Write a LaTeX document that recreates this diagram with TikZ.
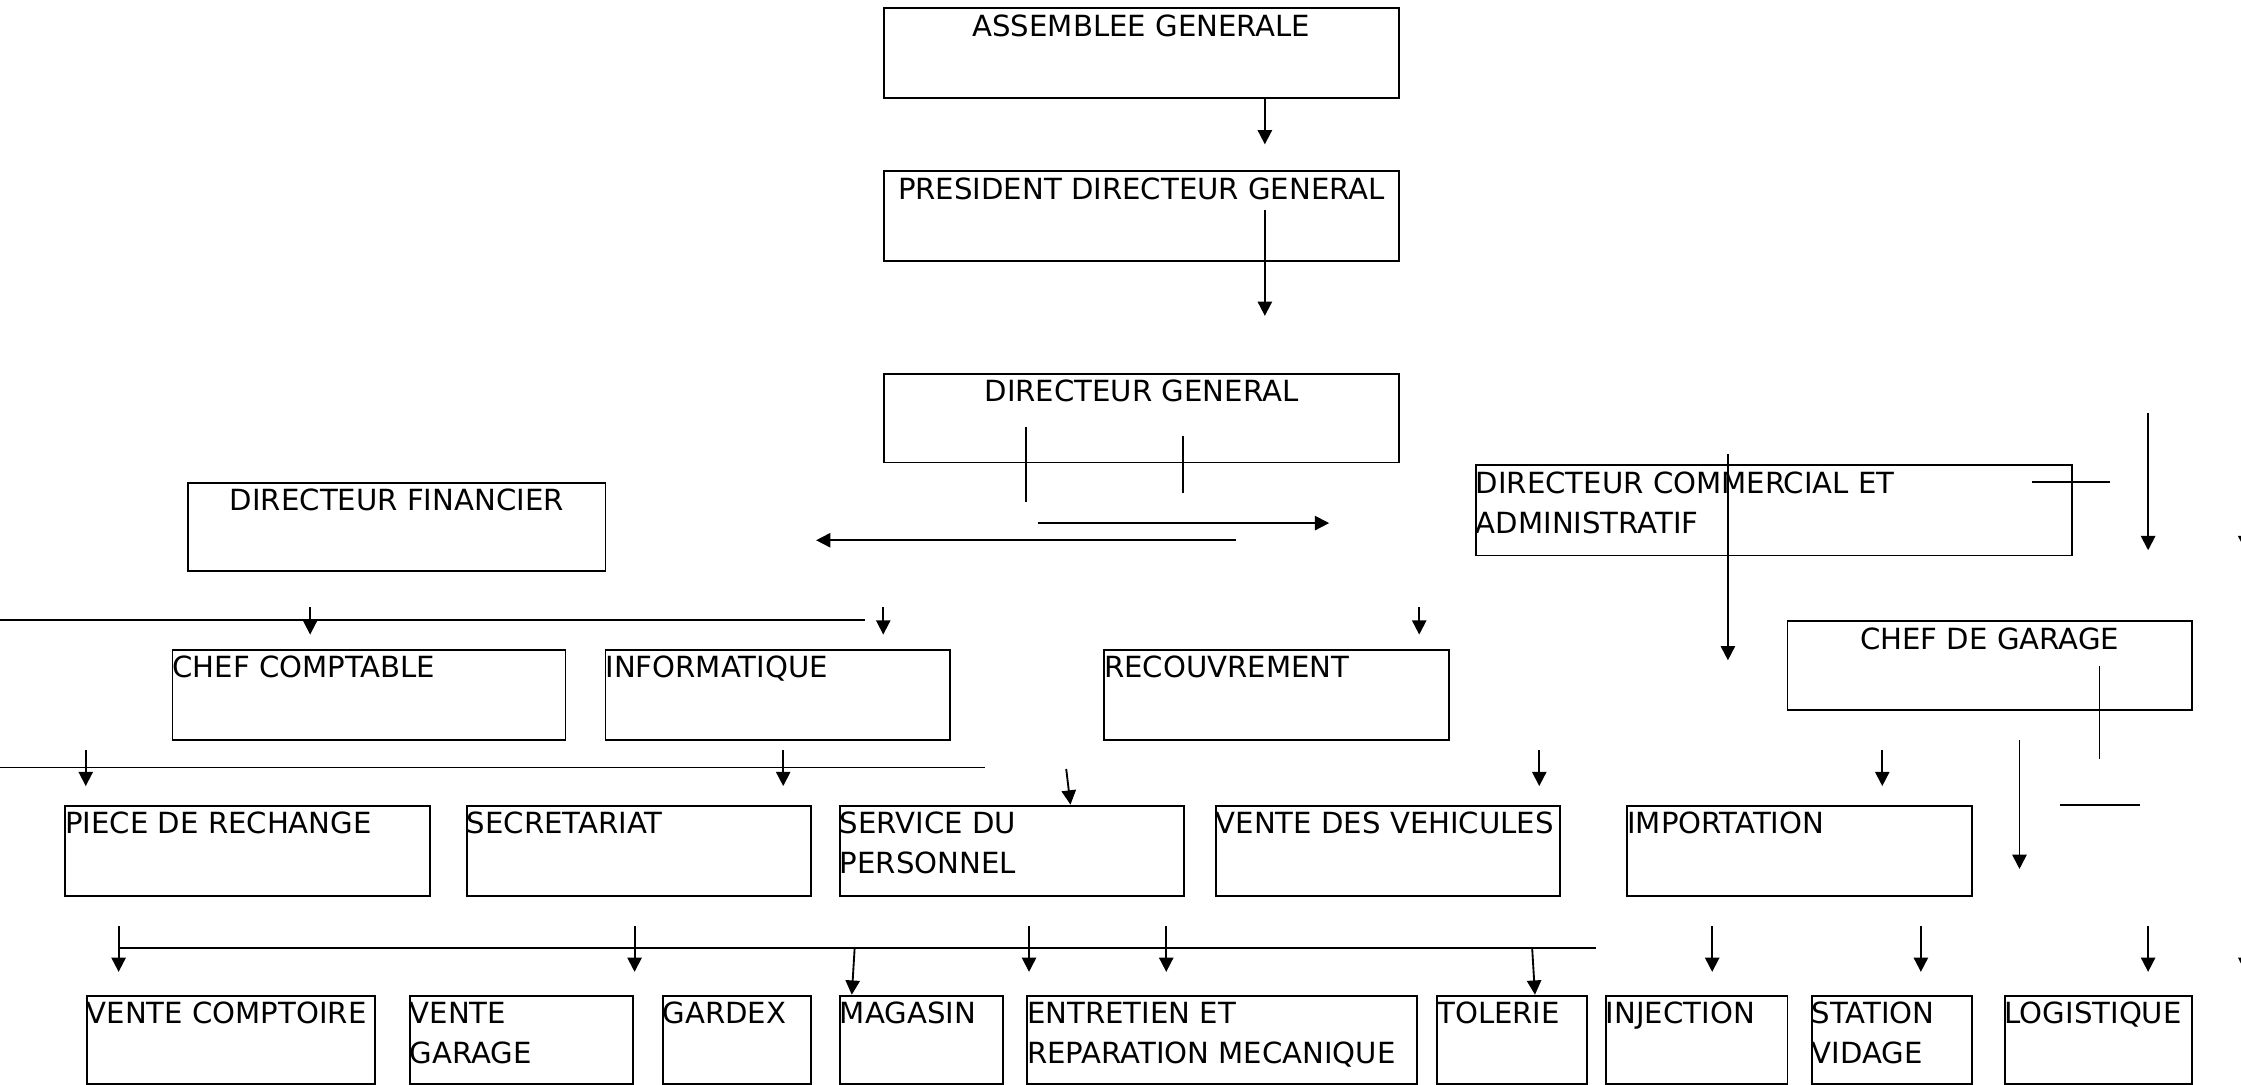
\documentclass[tikz,border=0pt]{standalone}
\usepackage{fontspec}
\setmainfont{DejaVu Sans}
\usetikzlibrary{arrows.meta}
\newcommand{\intitle}[4]{\parbox[c][#2pt][t]{#1pt}{#3\strut #4}}
\tikzset{
  box/.style={draw, line width=1.3pt, inner sep=0pt, anchor=north west},
  arr/.style={line width=1.3pt, -{Triangle[length=10pt,width=10pt]}},
  bar/.style={line width=1.3pt}
}

\begin{document}
\begin{tikzpicture}[x=1pt,y=-1pt,font=\fontsize{20.4}{28}\selectfont]
\useasboundingbox (0,0) rectangle (1568,759);

\node[box] (ag) at (618,5) {\intitle{360}{63}{\centering}{ASSEMBLEE GENERALE}};
\node[box] (pdg) at (618,119) {\intitle{360}{63}{\centering}{PRESIDENT DIRECTEUR GENERAL}};
\node[box] (dg) at (618,261) {\intitle{360}{62}{\centering}{DIRECTEUR GENERAL}};
\node[box] (df) at (131,337) {\intitle{292}{62}{\centering}{DIRECTEUR FINANCIER}};
\node[box] (dca) at (1032,325) {\intitle{417}{63}{\raggedright}{DIRECTEUR COMMERCIAL ET\\ADMINISTRATIF}};
\node[box] (cdg) at (1250,434) {\intitle{283}{62}{\centering}{CHEF DE GARAGE}};
\node[box] (cc) at (120,454) {\intitle{275}{63}{\raggedright}{CHEF COMPTABLE}};
\node[box] (info) at (423,454) {\intitle{241}{63}{\raggedright}{INFORMATIQUE}};
\node[box] (recouv) at (772,454) {\intitle{241}{63}{\raggedright}{RECOUVREMENT}};
\node[box] (pr) at (45,563) {\intitle{255}{63}{\raggedright}{PIECE DE RECHANGE}};
\node[box] (secr) at (326,563) {\intitle{241}{63}{\raggedright}{SECRETARIAT}};
\node[box] (sp) at (587,563) {\intitle{241}{63}{\raggedright}{SERVICE DU\\PERSONNEL}};
\node[box] (vv) at (850,563) {\intitle{241}{63}{\raggedright}{VENTE DES VEHICULES}};
\node[box] (imp) at (1138,563) {\intitle{241}{63}{\raggedright}{IMPORTATION}};
\node[box] (vc) at (60,696) {\intitle{202}{62}{\raggedright}{VENTE COMPTOIRE}};
\node[box] (vg) at (286,696) {\intitle{156}{62}{\raggedright}{VENTE\\GARAGE}};
\node[box] (gardex) at (463,696) {\intitle{104}{62}{\raggedright}{GARDEX}};
\node[box] (mag) at (587,696) {\intitle{114}{62}{\raggedright}{MAGASIN}};
\node[box] (erm) at (718,696) {\intitle{273}{62}{\raggedright}{ENTRETIEN ET\\REPARATION MECANIQUE}};
\node[box] (tol) at (1005,696) {\intitle{105}{62}{\raggedright}{TOLERIE}};
\node[box] (inj) at (1123,696) {\intitle{127}{62}{\raggedright}{INJECTION}};
\node[box] (sv) at (1267,696) {\intitle{112}{62}{\raggedright}{STATION\\VIDAGE}};
\node[box] (logi) at (1402,696) {\intitle{131}{62}{\raggedright}{LOGISTIQUE}};

\coordinate (a1) at (885,101);
\draw[arr] (ag.south -| a1) -- (a1);
\coordinate (p1) at (885,147);
\coordinate (p2) at (885,221);
\draw[arr] (p1) -- (p2);

\coordinate (d1) at (718,299);
\coordinate (d2) at (718,351);
\coordinate (d3) at (828,305);
\coordinate (d4) at (828,345);
\draw[bar] (d1) -- (d2);
\draw[bar] (d3) -- (d4);
\coordinate (r1) at (726,366);
\coordinate (r2) at (930,366);
\coordinate (l1) at (865,378);
\coordinate (l2) at (571,378);
\draw[arr] (r1) -- (r2);
\draw[arr] (l1) -- (l2);

\coordinate (c1) at (1209,318);
\coordinate (c2) at (1209,462);
\draw[arr] (c1) -- (c2);
\coordinate (c3) at (1422,337);
\coordinate (c4) at (1476,337);
\draw[bar] (c3) -- (c4);
\foreach \x [count=\i] in {1503,1571}{
  \coordinate (k\i) at (\x,289);
  \coordinate (m\i) at (\x,385);
  \draw[arr] (k\i) -- (m\i);
}

\coordinate (h1) at (0,434);
\coordinate (h2) at (605,434);
\draw[bar] (h1) -- (h2);
\foreach \x [count=\i] in {217,618,993}{
  \coordinate (s\i) at (\x,425);
  \coordinate (e\i) at (\x,444);
  \draw[arr] (s\i) -- (e\i);
}

\coordinate (h3) at (0,537);
\coordinate (h4) at (689,537);
\draw[bar] (h3) -- (h4);
\foreach \x [count=\i] in {60,548,1077,1317}{
  \coordinate (t\i) at (\x,525);
  \coordinate (f\i) at (\x,550);
  \draw[arr] (t\i) -- (f\i);
}
\coordinate (q1) at (746,538);
\coordinate (q2) at (749,0);
\draw[arr] (q1) -- (sp.north -| q2);
\coordinate (g1) at (1469,466);
\coordinate (g2) at (1469,531);
\draw[bar] (g1) -- (g2);
\coordinate (g3) at (1413,518);
\coordinate (g4) at (1413,608);
\draw[arr] (g3) -- (g4);
\coordinate (g5) at (1441,563);
\coordinate (g6) at (1497,563);
\draw[bar] (g5) -- (g6);

\coordinate (h5) at (83,663);
\coordinate (h6) at (635,663);
\coordinate (h7) at (345,663);
\coordinate (h8) at (1117,663);
\draw[bar] (h5) -- (h6);
\draw[bar] (h7) -- (h8);
\foreach \x [count=\i] in {83,444,720,816,1198,1344,1503,1571}{
  \coordinate (u\i) at (\x,648);
  \coordinate (v\i) at (\x,680);
  \draw[arr] (u\i) -- (v\i);
}
\coordinate (n1) at (598,663);
\coordinate (n2) at (596,0);
\draw[arr] (n1) -- (mag.north -| n2);
\coordinate (n3) at (1072,663);
\coordinate (n4) at (1074,0);
\draw[arr] (n3) -- (tol.north -| n4);
\end{tikzpicture}
\end{document}
